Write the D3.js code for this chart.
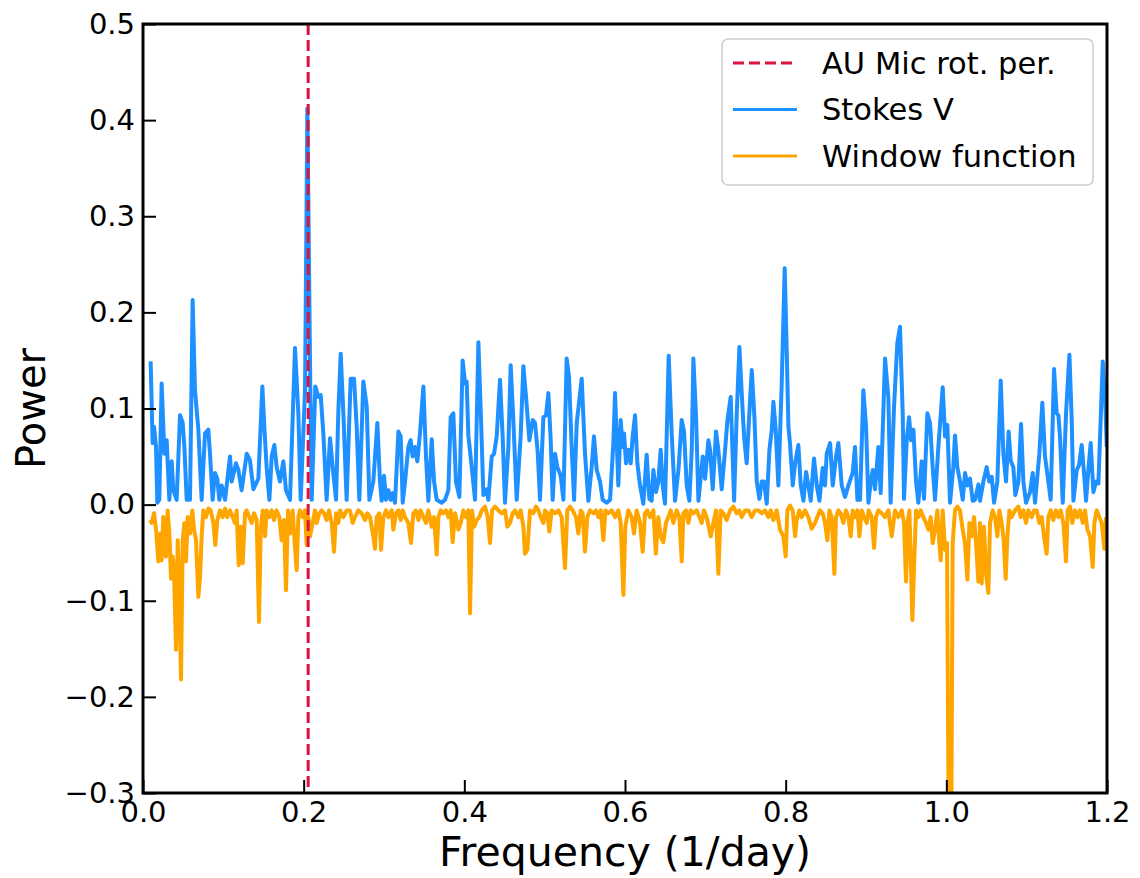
<!DOCTYPE html>
<html>
<head>
<meta charset="utf-8">
<script src="https://cdn.jsdelivr.net/npm/d3@7"></script>
<style>
  html, body { margin: 0; padding: 0; background: #fff; }
  svg { display: block; font-family: "DejaVu Sans", sans-serif; }
</style>
</head>
<body>
<svg id="chart" width="1140" height="878"></svg>
<script>
// ---------------- data ----------------
const xTicks = [0.0, 0.2, 0.4, 0.6, 0.8, 1.0, 1.2];
const yTicks = [-0.3, -0.2, -0.1, 0.0, 0.1, 0.2, 0.3, 0.4, 0.5];
const seriesNames = ["AU Mic rot. per.", "Stokes V", "Window function"];
const rotFreq = 0.2056; // AU Mic rotation frequency (1/day)

const stokesFreq = [
0.0095,0.0120,0.0137,0.0162,0.0178,0.0203,0.0232,0.0266,0.0295,0.0328,0.0357,0.0378,0.0419,0.0461,0.0494,0.0515,0.0544,0.0585,0.0618,0.0647,
0.0689,0.0730,0.0772,0.0813,0.0834,0.0867,0.0896,0.0925,0.0950,0.0979,0.1021,0.1083,0.1104,0.1158,0.1187,0.1228,0.1291,0.1332,0.1374,0.1436,
0.1486,0.1510,0.1539,0.1573,0.1602,0.1635,0.1664,0.1705,0.1747,0.1780,0.1830,0.1892,0.1934,0.1963,0.2017,0.2046,0.2079,0.2100,0.2145,0.2183,
0.2212,0.2245,0.2286,0.2328,0.2361,0.2403,0.2432,0.2461,0.2494,0.2535,0.2585,0.2627,0.2660,0.2693,0.2743,0.2785,0.2818,0.2867,0.2917,0.2950,
0.2971,0.3000,0.3025,0.3054,0.3083,0.3108,0.3137,0.3179,0.3208,0.3233,0.3262,0.3303,0.3332,0.3357,0.3386,0.3415,0.3448,0.3490,0.3523,0.3552,
0.3594,0.3623,0.3656,0.3718,0.3760,0.3801,0.3830,0.3863,0.3896,0.3938,0.3979,0.4009,0.4029,0.4050,0.4092,0.4133,0.4175,0.4208,0.4237,0.4278,
0.4299,0.4341,0.4370,0.4403,0.4444,0.4477,0.4506,0.4548,0.4577,0.4610,0.4652,0.4701,0.4735,0.4768,0.4810,0.4851,0.4880,0.4913,0.4942,0.4984,
0.5017,0.5046,0.5075,0.5100,0.5129,0.5158,0.5200,0.5233,0.5274,0.5303,0.5336,0.5366,0.5399,0.5432,0.5461,0.5502,0.5544,0.5585,0.5614,0.5648,
0.5689,0.5722,0.5772,0.5814,0.5855,0.5876,0.5917,0.5946,0.5971,0.5988,0.6013,0.6042,0.6071,0.6096,0.6125,0.6154,0.6187,0.6228,0.6270,0.6303,
0.6332,0.6353,0.6386,0.6415,0.6444,0.6469,0.6498,0.6544,0.6581,0.6623,0.6665,0.6706,0.6735,0.6768,0.6801,0.6831,0.6851,0.6885,0.6914,0.6968,
0.6997,0.7038,0.7059,0.7092,0.7133,0.7162,0.7204,0.7246,0.7275,0.7316,0.7358,0.7391,0.7424,0.7453,0.7482,0.7515,0.7548,0.7578,0.7611,0.7640,
0.7673,0.7702,0.7731,0.7764,0.7798,0.7827,0.7847,0.7876,0.7909,0.7951,0.7988,0.8013,0.8034,0.8054,0.8088,0.8117,0.8158,0.8188,0.8221,0.8254,
0.8283,0.8312,0.8353,0.8387,0.8420,0.8461,0.8490,0.8511,0.8553,0.8586,0.8627,0.8656,0.8698,0.8739,0.8781,0.8834,0.8863,0.8893,0.8926,0.8967,
0.9001,0.9030,0.9059,0.9084,0.9112,0.9154,0.9183,0.9237,0.9278,0.9307,0.9349,0.9390,0.9423,0.9457,0.9473,0.9507,0.9536,0.9561,0.9590,0.9623,
0.9652,0.9693,0.9722,0.9764,0.9797,0.9830,0.9859,0.9901,0.9955,0.9984,1.0013,1.0046,1.0087,1.0108,1.0137,1.0171,1.0204,1.0233,1.0262,1.0295,
1.0328,1.0357,1.0399,1.0419,1.0461,1.0502,1.0535,1.0565,1.0594,1.0635,1.0677,1.0710,1.0743,1.0776,1.0801,1.0834,1.0859,1.0897,1.0930,1.0959,
1.0992,1.1042,1.1075,1.1104,1.1158,1.1195,1.1228,1.1270,1.1299,1.1341,1.1374,1.1395,1.1415,1.1449,1.1490,1.1532,1.1561,1.1582,1.1623,1.1652,
1.1685,1.1714,1.1739,1.1768,1.1797,1.1831,1.1864,1.1893,1.1947,1.1976,1.1997
];
const stokesPower = [
0.149,0.064,0.081,0.060,0.002,0.005,0.126,0.053,0.067,0.005,0.045,0.015,0.005,0.093,0.085,0.060,0.005,0.005,0.213,0.119,
0.078,0.005,0.074,0.078,0.053,0.005,0.033,0.027,0.005,0.020,0.005,0.050,0.024,0.043,0.036,0.015,0.053,0.046,0.016,0.027,
0.123,0.081,0.039,0.005,0.050,0.062,0.039,0.024,0.045,0.015,0.005,0.163,0.095,0.005,0.119,0.412,0.150,0.005,0.123,0.112,
0.114,0.074,0.005,0.069,0.039,0.005,0.098,0.157,0.095,0.005,0.131,0.131,0.081,0.005,0.128,0.102,0.005,0.024,0.085,0.024,
0.004,0.030,0.005,0.015,0.005,0.012,0.002,0.076,0.071,0.002,0.024,0.060,0.067,0.050,0.060,0.045,0.074,0.123,0.050,0.004,
0.068,0.024,0.005,0.002,0.005,0.015,0.091,0.095,0.024,0.008,0.150,0.126,0.128,0.072,0.039,0.005,0.169,0.088,0.010,0.016,
0.005,0.050,0.053,0.071,0.130,0.071,0.002,0.060,0.145,0.088,0.005,0.071,0.144,0.112,0.067,0.088,0.085,0.055,0.005,0.091,
0.093,0.116,0.067,0.005,0.053,0.039,0.030,0.005,0.152,0.133,0.060,0.005,0.085,0.109,0.131,0.053,0.004,0.039,0.071,0.036,
0.024,0.005,0.002,0.005,0.064,0.116,0.020,0.088,0.060,0.074,0.043,0.057,0.043,0.071,0.093,0.043,0.020,0.001,0.052,0.006,
0.004,0.036,0.013,0.024,0.057,0.020,0.001,0.155,0.074,0.004,0.036,0.088,0.076,0.020,0.004,0.057,0.152,0.091,0.004,0.050,
0.027,0.067,0.057,0.016,0.076,0.057,0.016,0.057,0.088,0.112,0.004,0.095,0.164,0.116,0.071,0.043,0.095,0.140,0.091,0.024,
0.006,0.024,0.024,0.001,0.057,0.078,0.107,0.078,0.020,0.126,0.246,0.161,0.081,0.064,0.020,0.043,0.062,0.020,0.004,0.034,
0.020,0.004,0.048,0.020,0.004,0.038,0.020,0.053,0.064,0.020,0.050,0.064,0.020,0.008,0.020,0.033,0.060,0.005,0.005,0.119,
0.081,0.002,0.024,0.036,0.016,0.060,0.012,0.152,0.112,0.002,0.102,0.168,0.185,0.095,0.006,0.067,0.091,0.067,0.078,0.024,
0.002,0.045,0.006,0.095,0.085,0.039,0.005,0.060,0.122,0.071,0.083,0.002,0.039,0.072,0.039,0.024,0.005,0.033,0.020,0.027,
0.004,0.005,0.021,0.004,0.024,0.039,0.024,0.029,0.002,0.024,0.129,0.053,0.024,0.076,0.046,0.039,0.010,0.024,0.084,0.024,
0.002,0.013,0.033,0.002,0.053,0.106,0.050,0.024,0.005,0.141,0.095,0.093,0.071,0.002,0.095,0.156,0.088,0.004,0.036,0.041,
0.062,0.033,0.004,0.036,0.064,0.013,0.024,0.022,0.149,0.112,0.060
];

const windowFreq = [
0.0087,0.0108,0.0137,0.0162,0.0191,0.0212,0.0232,0.0253,0.0286,0.0307,0.0328,0.0349,0.0369,0.0386,0.0411,0.0432,0.0452,0.0473,0.0494,0.0515,
0.0535,0.0556,0.0585,0.0614,0.0635,0.0660,0.0689,0.0710,0.0730,0.0751,0.0784,0.0813,0.0842,0.0876,0.0900,0.0925,0.0959,0.0992,0.1021,0.1050,
0.1083,0.1116,0.1145,0.1166,0.1191,0.1216,0.1241,0.1270,0.1291,0.1324,0.1353,0.1382,0.1415,0.1444,0.1465,0.1490,0.1519,0.1539,0.1573,0.1602,
0.1631,0.1664,0.1697,0.1726,0.1755,0.1780,0.1805,0.1830,0.1863,0.1888,0.1913,0.1934,0.1954,0.1988,0.2017,0.2037,0.2058,0.2079,0.2112,0.2141,
0.2162,0.2195,0.2224,0.2253,0.2286,0.2315,0.2349,0.2378,0.2403,0.2432,0.2452,0.2494,0.2535,0.2577,0.2610,0.2639,0.2681,0.2722,0.2764,0.2793,
0.2826,0.2867,0.2888,0.2909,0.2942,0.2963,0.2992,0.3025,0.3054,0.3096,0.3116,0.3150,0.3179,0.3208,0.3233,0.3262,0.3303,0.3336,0.3365,0.3398,
0.3428,0.3457,0.3490,0.3523,0.3552,0.3594,0.3623,0.3656,0.3677,0.3706,0.3739,0.3772,0.3801,0.3830,0.3855,0.3884,0.3926,0.3955,0.3988,0.4021,
0.4050,0.4071,0.4096,0.4121,0.4154,0.4187,0.4216,0.4258,0.4291,0.4320,0.4345,0.4382,0.4424,0.4465,0.4507,0.4536,0.4569,0.4602,0.4631,0.4673,
0.4702,0.4735,0.4755,0.4785,0.4818,0.4859,0.4892,0.4922,0.4951,0.4984,0.5004,0.5033,0.5058,0.5087,0.5129,0.5170,0.5212,0.5253,0.5282,0.5316,
0.5349,0.5390,0.5419,0.5448,0.5473,0.5502,0.5531,0.5565,0.5606,0.5640,0.5669,0.5698,0.5731,0.5756,0.5793,0.5834,0.5876,0.5917,0.5946,0.5980,
0.6004,0.6042,0.6083,0.6112,0.6145,0.6187,0.6220,0.6249,0.6278,0.6311,0.6353,0.6384,0.6415,0.6444,0.6477,0.6510,0.6539,0.6569,0.6602,0.6643,
0.6677,0.6706,0.6727,0.6760,0.6789,0.6818,0.6851,0.6893,0.6926,0.6955,0.6984,0.7017,0.7067,0.7100,0.7133,0.7162,0.7191,0.7225,0.7266,0.7308,
0.7349,0.7391,0.7424,0.7453,0.7494,0.7536,0.7577,0.7619,0.7660,0.7702,0.7743,0.7785,0.7814,0.7847,0.7888,0.7930,0.7971,0.8000,0.8021,0.8054,
0.8088,0.8117,0.8137,0.8170,0.8199,0.8241,0.8282,0.8324,0.8365,0.8394,0.8427,0.8461,0.8490,0.8519,0.8544,0.8573,0.8606,0.8627,0.8656,0.8685,
0.8718,0.8751,0.8781,0.8810,0.8834,0.8863,0.8893,0.8918,0.8947,0.8976,0.9009,0.9034,0.9071,0.9100,0.9125,0.9154,0.9195,0.9237,0.9278,0.9320,
0.9361,0.9403,0.9444,0.9473,0.9498,0.9519,0.9540,0.9556,0.9577,0.9598,0.9623,0.9652,0.9681,0.9714,0.9747,0.9776,0.9805,0.9830,0.9859,0.9888,
0.9913,0.9930,0.9955,0.9984,1.0008,1.0029,1.0062,1.0079,1.0108,1.0137,1.0170,1.0204,1.0232,1.0262,1.0287,1.0316,1.0345,1.0370,1.0399,1.0419,
1.0440,1.0469,1.0494,1.0523,1.0544,1.0577,1.0606,1.0635,1.0660,1.0689,1.0714,1.0739,1.0760,1.0785,1.0814,1.0855,1.0897,1.0926,1.0959,1.0992,
1.1021,1.1062,1.1092,1.1125,1.1158,1.1187,1.1216,1.1249,1.1270,1.1299,1.1332,1.1365,1.1395,1.1424,1.1457,1.1490,1.1511,1.1540,1.1569,1.1602,
1.1631,1.1664,1.1698,1.1727,1.1756,1.1789,1.1822,1.1843,1.1872,1.1905,1.1934,1.1967,1.1988
];
const windowPower = [
-0.016,-0.019,-0.009,-0.026,-0.059,-0.030,-0.058,-0.013,-0.054,-0.006,-0.030,-0.077,-0.054,-0.068,-0.151,-0.037,-0.089,-0.182,-0.037,-0.019,
-0.059,-0.013,-0.030,-0.006,-0.026,-0.037,-0.096,-0.075,-0.033,-0.006,-0.013,-0.004,-0.006,-0.019,-0.042,-0.016,-0.006,-0.013,-0.004,-0.013,
-0.006,-0.013,-0.019,-0.006,-0.063,-0.023,-0.061,-0.009,-0.006,-0.013,-0.019,-0.009,-0.016,-0.122,-0.026,-0.006,-0.033,-0.006,-0.013,-0.006,
-0.016,-0.006,-0.013,-0.037,-0.016,-0.089,-0.006,-0.030,-0.006,-0.040,-0.068,-0.013,-0.006,-0.013,-0.006,-0.042,-0.013,-0.033,-0.019,-0.006,
-0.019,-0.009,-0.006,-0.009,-0.016,-0.006,-0.019,-0.049,-0.009,-0.019,-0.006,-0.013,-0.006,-0.006,-0.019,-0.013,-0.006,-0.009,-0.016,-0.009,
-0.013,-0.033,-0.046,-0.013,-0.009,-0.047,-0.013,-0.006,-0.013,-0.006,-0.026,-0.009,-0.006,-0.016,-0.006,-0.013,-0.019,-0.040,-0.009,-0.006,
-0.016,-0.006,-0.013,-0.019,-0.006,-0.023,-0.013,-0.052,-0.013,-0.006,-0.009,-0.006,-0.013,-0.006,-0.039,-0.009,-0.026,-0.019,-0.006,-0.013,
-0.006,-0.113,-0.006,-0.023,-0.016,-0.013,-0.006,-0.002,-0.013,-0.040,-0.006,-0.002,-0.006,-0.009,-0.006,-0.023,-0.019,-0.009,-0.006,-0.013,
-0.006,-0.023,-0.051,-0.047,-0.006,-0.009,-0.002,-0.006,-0.013,-0.019,-0.006,-0.009,-0.028,-0.006,-0.009,-0.006,-0.013,-0.066,-0.006,-0.002,
-0.006,-0.013,-0.030,-0.006,-0.009,-0.049,-0.013,-0.006,-0.009,-0.006,-0.013,-0.006,-0.037,-0.006,-0.009,-0.006,-0.013,-0.006,-0.019,-0.094,
-0.023,-0.006,-0.013,-0.030,-0.006,-0.019,-0.049,-0.009,-0.006,-0.013,-0.006,-0.051,-0.013,-0.033,-0.039,-0.019,-0.013,-0.006,-0.019,-0.006,
-0.013,-0.059,-0.009,-0.006,-0.019,-0.006,-0.009,-0.006,-0.013,-0.019,-0.006,-0.013,-0.033,-0.019,-0.006,-0.072,-0.006,-0.009,-0.016,-0.006,
-0.002,-0.009,-0.006,-0.013,-0.006,-0.006,-0.013,-0.006,-0.006,-0.009,-0.006,-0.013,-0.006,-0.016,-0.006,-0.026,-0.033,-0.054,-0.006,-0.001,
-0.006,-0.033,-0.016,-0.006,-0.013,-0.006,-0.013,-0.025,-0.019,-0.013,-0.006,-0.009,-0.019,-0.037,-0.006,-0.013,-0.072,-0.013,-0.006,-0.009,
-0.019,-0.006,-0.013,-0.033,-0.006,-0.013,-0.006,-0.033,-0.006,-0.013,-0.019,-0.006,-0.013,-0.045,-0.013,-0.006,-0.009,-0.013,-0.006,-0.033,
-0.006,-0.013,-0.006,-0.019,-0.080,-0.019,-0.006,-0.054,-0.120,-0.065,-0.006,-0.013,-0.006,-0.013,-0.019,-0.026,-0.013,-0.040,-0.026,-0.006,
-0.040,-0.058,-0.006,-0.047,-0.040,-0.330,-0.330,-0.040,-0.006,-0.002,-0.006,-0.026,-0.040,-0.078,-0.019,-0.033,-0.013,-0.040,-0.080,-0.019,
-0.082,-0.023,-0.072,-0.092,-0.019,-0.006,-0.013,-0.033,-0.006,-0.019,-0.037,-0.077,-0.033,-0.006,-0.013,-0.006,-0.002,-0.013,-0.006,-0.019,
-0.006,-0.013,-0.006,-0.006,-0.019,-0.013,-0.033,-0.051,-0.013,-0.006,-0.016,-0.006,-0.013,-0.006,-0.019,-0.059,-0.006,-0.002,-0.019,-0.006,
-0.013,-0.006,-0.019,-0.006,-0.026,-0.033,-0.065,-0.019,-0.006,-0.013,-0.019,-0.046,-0.013
];

// ---------------- layout ----------------
const margin = { left: 143, top: 24, right: 1140 - 1107, bottom: 878 - 793 };
const width = 1140 - margin.left - margin.right;
const height = 878 - margin.top - margin.bottom;

const colors = { rot: "#DC143C", stokes: "#1E90FF", window: "#FFA500" };

const svg = d3.select("#chart");
const g = svg.append("g").attr("transform", `translate(${margin.left},${margin.top})`);

const x = d3.scaleLinear().domain([0, 1.2]).range([0, width]);
const y = d3.scaleLinear().domain([-0.3, 0.5]).range([height, 0]);

g.append("defs").append("clipPath").attr("id", "clip")
  .append("rect").attr("x", 0).attr("y", 0).attr("width", width).attr("height", height);

const plot = g.append("g").attr("clip-path", "url(#clip)");

const line = d3.line().x(d => x(d[0])).y(d => y(d[1]));

const stokes = stokesFreq.map((f, i) => [f, stokesPower[i]]);
const windowF = windowFreq.map((f, i) => [f, windowPower[i]]);

plot.append("path").datum(stokes).attr("d", line)
  .attr("fill", "none").attr("stroke", colors.stokes).attr("stroke-width", 4)
  .attr("stroke-linejoin", "round");

plot.append("path").datum(windowF).attr("d", line)
  .attr("fill", "none").attr("stroke", colors.window).attr("stroke-width", 4)
  .attr("stroke-linejoin", "round");

plot.append("line")
  .attr("x1", x(rotFreq)).attr("x2", x(rotFreq))
  .attr("y1", y(0.5)).attr("y2", y(-0.3))
  .attr("stroke", colors.rot).attr("stroke-width", 3)
  .attr("stroke-dasharray", "11,5");

// axes with inward ticks
const fmt = d => d3.format(".1f")(d).replace("-", "\u2212");
const xAxis = d3.axisBottom(x).tickValues(xTicks).tickFormat(fmt)
  .tickSizeInner(-13).tickSizeOuter(0).tickPadding(8);
const yAxis = d3.axisLeft(y).tickValues(yTicks).tickFormat(fmt)
  .tickSizeInner(-13).tickSizeOuter(0).tickPadding(8);

const gx = g.append("g").attr("transform", `translate(0,${height})`).call(xAxis);
const gy = g.append("g").call(yAxis);
[gx, gy].forEach(a => {
  a.select(".domain").remove();
  a.selectAll(".tick line").attr("stroke", "#000").attr("stroke-width", 2);
  a.selectAll(".tick text").attr("fill", "#000")
    .style("font-family", "'DejaVu Sans', sans-serif").style("font-size", "29px");
});

// frame
g.append("rect").attr("x", 0).attr("y", 0).attr("width", width).attr("height", height)
  .attr("fill", "none").attr("stroke", "#000").attr("stroke-width", 3);

// axis labels
svg.append("text")
  .attr("x", margin.left + width / 2).attr("y", 866)
  .attr("text-anchor", "middle")
  .style("font-size", "41px").text("Frequency (1/day)");

svg.append("text")
  .attr("transform", `translate(45,${margin.top + height / 2}) rotate(-90)`)
  .attr("text-anchor", "middle")
  .style("font-size", "40px").text("Power");

// legend
const leg = svg.append("g").attr("transform", "translate(722,39)");
leg.append("rect").attr("width", 371).attr("height", 146).attr("rx", 6).attr("ry", 6)
  .attr("fill", "#fff").attr("fill-opacity", 0.8)
  .attr("stroke", "#cccccc").attr("stroke-width", 1.5);
const legItems = [
  { name: seriesNames[0], color: colors.rot, dash: "11,5" },
  { name: seriesNames[1], color: colors.stokes, dash: null },
  { name: seriesNames[2], color: colors.window, dash: null }
];
legItems.forEach((it, i) => {
  const cy = 24 + i * 46.5;
  leg.append("line").attr("x1", 11).attr("x2", 75).attr("y1", cy).attr("y2", cy)
    .attr("stroke", it.color).attr("stroke-width", 3)
    .attr("stroke-dasharray", it.dash);
  leg.append("text").attr("x", 100).attr("y", cy).attr("dy", "0.36em")
    .style("font-size", "30.5px").text(it.name);
});
</script>
</body>
</html>
